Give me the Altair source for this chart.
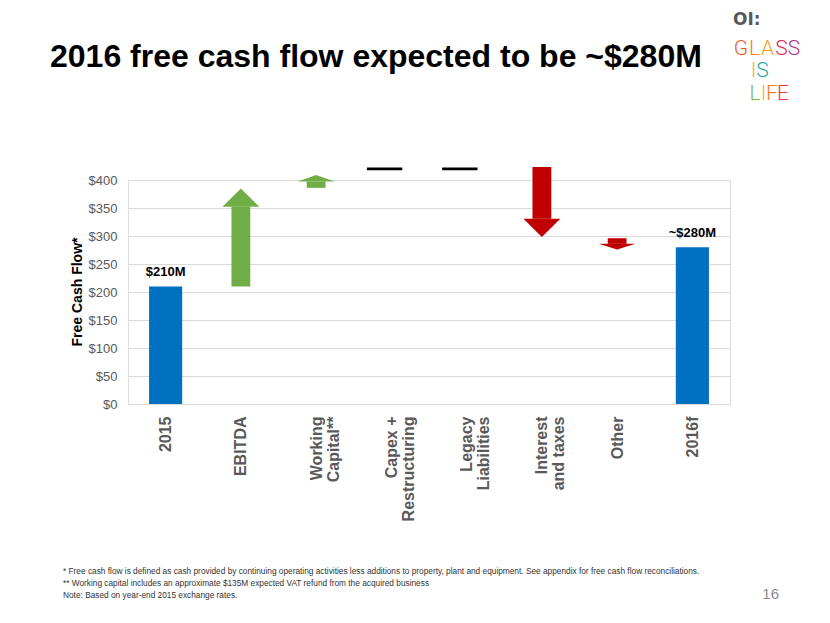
import json
import altair as alt
import pandas as pd

# ---------------- data ----------------
categories = ["2015", "EBITDA", "Working\nCapital**", "Capex +\nRestructuring",
              "Legacy\nLiabilities", "Interest\nand taxes", "Other", "2016f"]
bar_values = [210, None, None, None, None, None, None, 280]
bar_labels = ["$210M", None, None, None, None, None, None, "~$280M"]
arrow_from = [None, 210, 386, None, None, 423, 296, None]
arrow_to = [None, 385, 409, None, None, 298, 276, None]
flat_level = [None, None, None, 420, 420, None, None, None]
y_ticks = [0, 50, 100, 150, 200, 250, 300, 350, 400]

title_text = "2016 free cash flow expected to be ~$280M"
y_title = "Free Cash Flow*"
footnotes = [
    "*   Free cash flow is defined as cash provided by continuing operating activities less additions to property, plant and equipment. See appendix for free cash flow reconciliations.",
    "** Working capital includes an approximate $135M expected VAT refund from the acquired business",
    "Note: Based on year-end 2015 exchange rates.",
]
page_number = "16"
logo_mark = "OI:"
logo_words = ["GLASS", "IS", "LIFE"]
logo_colors = [
    ["#f05a28", "#f58220", "#f7a21b", "#e8255f", "#a3378f"],
    ["#f9b515", "#1fa89a"],
    ["#7dbb42", "#f9b515", "#f47c20", "#ee3d3b"],
]

# ---------------- layout / style ----------------
PLOT_W, PLOT_H = 602, 224
PAD_L, PAD_T = 120, 172
MARGIN = 8
Y_MAX = 400
BAND_PX = PLOT_W / len(categories)
UNIT_PX = PLOT_H / Y_MAX
BAR_HALF = 0.22
SHAFT_HALF = 0.125
HEAD_HALF = 0.245
DASH_HALF = 0.235
DASH_SHIFT = -0.09
HEAD_W_PX = 2 * HEAD_HALF * BAND_PX
UP, DOWN = "#70ad47", "#c00000"
BLUE = "#0070c0"
FONT = "Liberation Sans"


def px(x):
    return x - (PAD_L + MARGIN)


def py(y):
    return y - (PAD_T + MARGIN)


# ---------------- tables ----------------
bars = pd.DataFrame([
    dict(x0=i - BAR_HALF, x1=i + BAR_HALF, xc=i, y0=0, y1=v, label=bar_labels[i])
    for i, v in enumerate(bar_values) if v is not None
])

shaft_rows, head_rows = [], []
for i, (a, b) in enumerate(zip(arrow_from, arrow_to)):
    if a is None:
        continue
    length = abs(b - a)
    head = 0.5 * min(HEAD_W_PX / UNIT_PX, length)
    s = 1 if b > a else -1
    base = b - s * head
    col = UP if s > 0 else DOWN
    shaft_rows.append(dict(arrow=i, x0=i - SHAFT_HALF, x1=i + SHAFT_HALF, y0=a, y1=base, col=col))
    for xx, yy in [(i - HEAD_HALF, base), (i, b), (i + HEAD_HALF, base)]:
        head_rows.append(dict(arrow=i, x=xx, y=yy, y2=base, col=col))
shafts = pd.DataFrame(shaft_rows)
heads = pd.DataFrame(head_rows)

dashes = pd.DataFrame([
    dict(x0=i + DASH_SHIFT - DASH_HALF, x1=i + DASH_SHIFT + DASH_HALF, y=v)
    for i, v in enumerate(flat_level) if v is not None
])

# ---------------- scales / axes ----------------
label_lines = [c.split("\n") for c in categories]
x_scale = alt.Scale(domain=[-0.5, len(categories) - 0.5], nice=False, zero=False)
y_scale = alt.Scale(domain=[0, Y_MAX], nice=False)
x_axis = alt.Axis(values=list(range(len(categories))),
                  labelExpr=json.dumps(label_lines) + "[datum.value]",
                  labelAngle=270, labelAlign="right", labelBaseline="middle",
                  labelPadding=12, labelFontSize=16, labelFontWeight="bold",
                  labelColor="#595959", labelLineHeight=17, labelFont=FONT,
                  labelFlush=False, labelOverlap=False,
                  ticks=False, domain=False, grid=False, title=None)
y_axis = alt.Axis(values=y_ticks, format="$.0f", labelFontSize=13, labelColor="#595959",
                  labelPadding=11, labelFont=FONT, ticks=False, domain=False,
                  grid=True, gridColor="#d9d9d9", gridWidth=1, title=None)


def X(f):
    return alt.X(f, type="quantitative", scale=x_scale, axis=x_axis)


def Y(f):
    return alt.Y(f, type="quantitative", scale=y_scale, axis=y_axis)


bar_layer = alt.Chart(bars).mark_rect(color=BLUE).encode(
    x=X("x0"), x2="x1", y=Y("y0"), y2="y1")
label_layer = alt.Chart(bars).mark_text(
    fontSize=13, fontWeight="bold", color="black", baseline="alphabetic", dy=-10, font=FONT
).encode(x=X("xc"), y=Y("y1"), text="label:N")
shaft_layer = alt.Chart(shafts).mark_rect().encode(
    x=X("x0"), x2="x1", y=Y("y0"), y2="y1", color=alt.Color("col:N", scale=None))
head_layer = alt.Chart(heads).mark_area(interpolate="linear").encode(
    x=X("x"), y=Y("y"), y2="y2", color=alt.Color("col:N", scale=None),
    detail="arrow:N")
dash_layer = alt.Chart(dashes).mark_rule(color="black", strokeWidth=2.7, strokeCap="butt").encode(
    x=X("x0"), x2="x1", y=Y("y"))

one = pd.DataFrame({"k": [0]})


def note(text, x, y, **kw):
    return alt.Chart(one).mark_text(text=text, font=kw.pop("font", FONT), **kw).encode(
        x=alt.value(px(x)), y=alt.value(py(y)))


annotations = [
    note(title_text, 50, 67, align="left", baseline="alphabetic", fontSize=32,
         fontWeight="bold", color="black"),
    note(y_title, 78, 292, angle=270, align="center", baseline="middle", fontSize=14,
         fontWeight="bold", color="black"),
    note("\n".join(footnotes), 63, 574, align="left", baseline="alphabetic", fontSize=8.3,
         color="#333333", lineBreak="\n", lineHeight=12),
    note(page_number, 779, 599, align="right", baseline="alphabetic", fontSize=15,
         color="#8c8c8c"),
    note(logo_mark, 733, 25, align="left", baseline="alphabetic", fontSize=17,
         fontWeight="bold", color="#58595b", font="DejaVu Sans"),
]
letter_centers = [[741, 754.5, 767.5, 781.5, 794], [753.5, 762.5], [755, 763.5, 772, 783]]
letter_baselines = [55, 77, 100]
for word, cols, centers, base in zip(logo_words, logo_colors, letter_centers, letter_baselines):
    for ch, c, cx in zip(word, cols, centers):
        annotations.append(note(ch, cx, base, align="center", baseline="alphabetic",
                                fontSize=21, color=c, font="Roboto", fontWeight=300))

chart = alt.layer(bar_layer, shaft_layer, head_layer, dash_layer, label_layer, *annotations).properties(
    width=PLOT_W, height=PLOT_H,
    autosize=alt.AutoSizeParams(type="none"),
    padding={"left": PAD_L, "top": PAD_T, "right": 92, "bottom": 205},
    background="white",
).configure_view(stroke=None).configure(font=FONT)

chart.save("out.html", embed_options={"renderer": "svg", "actions": False})
